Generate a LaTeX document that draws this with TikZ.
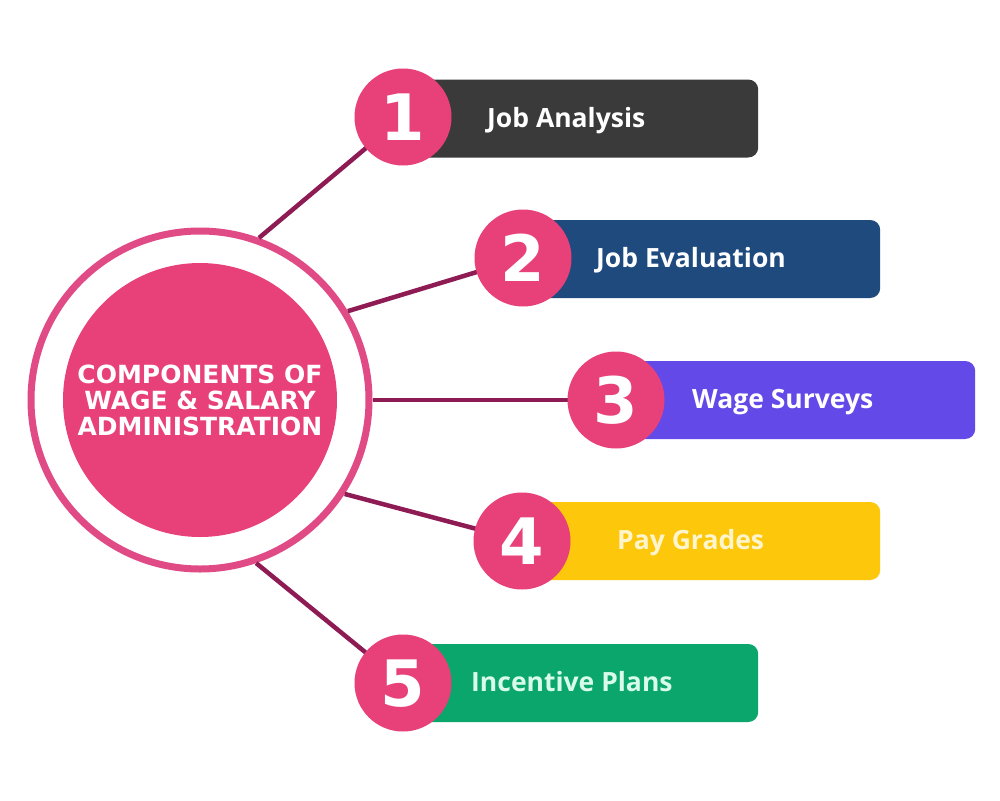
\documentclass[tikz,border=0pt]{standalone}
\usepackage{fontspec}
\setmainfont{Open Sans}
\newfontfamily\heavyfont{DejaVu Sans}
\definecolor{pinkc}{HTML}{E8417A}
\definecolor{ringc}{HTML}{E04B85}
\definecolor{linec}{HTML}{8E1B54}
\definecolor{darkc}{HTML}{3A3A3A}
\definecolor{navyc}{HTML}{1E4A7E}
\definecolor{purplec}{HTML}{6349E8}
\definecolor{yellowc}{HTML}{FDC70C}
\definecolor{greenc}{HTML}{0AA66B}
\definecolor{creamtxt}{HTML}{FFF5CC}
\definecolor{minttxt}{HTML}{D9FBEA}
\begin{document}
\begin{tikzpicture}[x=1pt,y=-1pt,
  numcircle/.style={circle,fill=pinkc,minimum size=97pt,inner sep=0pt},
  numtext/.style={anchor=base,text=white,font=\heavyfont\bfseries\fontsize{64}{64}\selectfont,inner sep=0pt},
  bar/.style={rounded corners=10pt,anchor=west,minimum height=78pt,inner sep=0pt},
  lbl/.style={anchor=base west,text=white,font=\fontsize{26.5}{30}\selectfont\bfseries,inner sep=0pt},
  link/.style={draw=linec,line width=4.5pt}]
\fill[white] (0,0) rectangle (1000,800);
\useasboundingbox (0,0) rectangle (1000,800);
% hub
\node[circle,draw=ringc,line width=7pt,minimum size=338pt,inner sep=0pt] (hub) at (200,400) {};
% connectors drawn first
\coordinate (c1) at (403,117);
\coordinate (c2) at (523,258);
\coordinate (c3) at (616,400);
\coordinate (c4) at (522,541);
\coordinate (c5) at (403,683);
\draw[link] (hub.70) -- (c1);
\draw[link] (hub.31) -- (c2);
\draw[link] (hub.0) -- (c3);
\draw[link] (hub.-33) -- (c4);
\draw[link] (hub.-71) -- (c5);
\node[circle,fill=pinkc,minimum size=274pt,inner sep=0pt,text=white,align=center,
  font=\heavyfont\bfseries\fontsize{25}{26}\selectfont] (core) at (200,400)
  {COMPONENTS OF\\WAGE \& SALARY\\ADMINISTRATION};
% bars
\node[bar,fill=darkc,minimum width=355pt] (b1) at (403,118.5) {};
\node[bar,fill=navyc,minimum width=357pt] (b2) at (523,259) {};
\node[bar,fill=purplec,minimum width=359pt] (b3) at (616,400) {};
\node[bar,fill=yellowc,minimum width=358pt] (b4) at (522,541) {};
\node[bar,fill=greenc,minimum width=355pt] (b5) at (403,683) {};
% number circles
\node[numcircle] (n1) at (c1) {};
\node[numcircle] (n2) at (c2) {};
\node[numcircle] (n3) at (c3) {};
\node[numcircle] (n4) at (c4) {};
\node[numcircle] (n5) at (c5) {};
\node[numtext] (t1) at ([yshift=-23.5pt]n1.center) {1};
\node[numtext] (t2) at ([yshift=-23.5pt]n2.center) {2};
\node[numtext] (t3) at ([yshift=-23.5pt]n3.center) {3};
\node[numtext] (t4) at ([yshift=-23.5pt]n4.center) {4};
\node[numtext] (t5) at ([yshift=-23.5pt]n5.center) {5};
% labels
\node[lbl] (l1) at (487,127) {Job Analysis};
\node[lbl] (l2) at (596,267) {Job Evaluation};
\node[lbl] (l3) at (692,408) {Wage Surveys};
\node[lbl,text=creamtxt] (l4) at (617,549) {Pay Grades};
\node[lbl,text=minttxt] (l5) at (471,691) {Incentive Plans};
\end{tikzpicture}
\end{document}
